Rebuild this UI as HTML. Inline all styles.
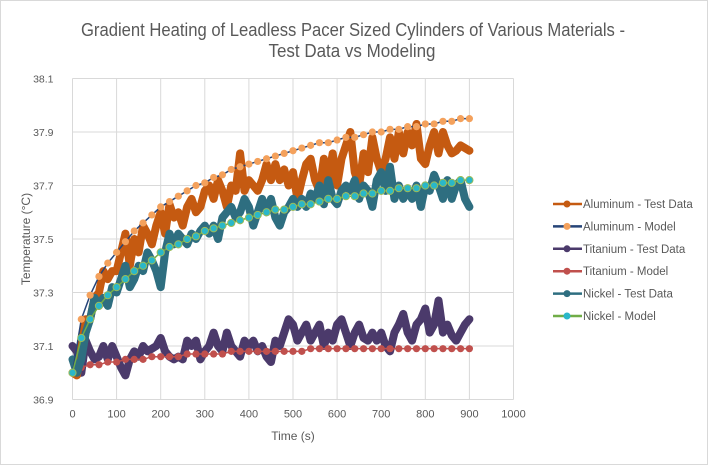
<!DOCTYPE html>
<html><head><meta charset="utf-8"><style>
body{margin:0;background:#fff;}
svg{display:block;font-family:"Liberation Sans",sans-serif;}
</style></head><body>
<svg id="chart" width="709" height="466">
<rect x="0.5" y="0.5" width="707" height="464" fill="#fff" stroke="#d9d9d9"/>
<text x="353" y="36" font-size="18" fill="#595959" text-anchor="middle" textLength="544" lengthAdjust="spacingAndGlyphs">Gradient Heating of Leadless Pacer Sized Cylinders of Various Materials -</text>
<text x="352" y="57" font-size="18" fill="#595959" text-anchor="middle" textLength="167" lengthAdjust="spacingAndGlyphs">Test Data vs Modeling</text>
<g id="grid"></g><g id="series"></g><g id="legend"></g>
<text x="293" y="440" font-size="12" fill="#595959" text-anchor="middle">Time (s)</text>
<text transform="translate(30,239) rotate(-90)" font-size="12" fill="#595959" text-anchor="middle">Temperature (°C)</text>
</svg>
<script>
const xTicks=[0,100,200,300,400,500,600,700,800,900,1000];
const yTicks=[36.9,37.1,37.3,37.5,37.7,37.9,38.1];
const alModel=[37.00,37.20,37.29,37.36,37.41,37.45,37.49,37.53,37.56,37.59,37.62,37.64,37.66,37.68,37.70,37.71,37.73,37.74,37.76,37.77,37.78,37.79,37.80,37.81,37.82,37.83,37.84,37.85,37.86,37.86,37.87,37.88,37.88,37.89,37.90,37.90,37.91,37.91,37.92,37.92,37.93,37.93,37.94,37.94,37.95,37.95];
const niModel=[37.00,37.13,37.20,37.25,37.29,37.32,37.35,37.38,37.40,37.42,37.45,37.47,37.48,37.50,37.51,37.53,37.54,37.55,37.56,37.57,37.58,37.59,37.60,37.61,37.61,37.62,37.63,37.63,37.64,37.65,37.65,37.66,37.66,37.67,37.67,37.68,37.68,37.69,37.69,37.69,37.70,37.70,37.71,37.71,37.72,37.72];
const tiModel=[37.00,37.02,37.03,37.03,37.04,37.04,37.05,37.05,37.05,37.06,37.06,37.06,37.06,37.07,37.07,37.07,37.07,37.07,37.08,37.08,37.08,37.08,37.08,37.08,37.08,37.08,37.08,37.09,37.09,37.09,37.09,37.09,37.09,37.09,37.09,37.09,37.09,37.09,37.09,37.09,37.09,37.09,37.09,37.09,37.09,37.09];
const alTest=[37.0,36.99,37.1,37.2,37.2,37.28,37.3,37.38,37.35,37.38,37.38,37.45,37.52,37.4,37.5,37.45,37.55,37.52,37.48,37.55,37.6,37.52,37.63,37.58,37.6,37.55,37.62,37.65,37.6,37.62,37.68,37.7,37.65,37.72,37.68,37.62,37.7,37.68,37.82,37.68,37.72,37.7,37.68,37.72,37.78,37.72,37.78,37.72,37.76,37.7,37.75,37.65,37.72,37.78,37.8,37.72,37.68,37.8,37.72,37.82,37.7,37.8,37.85,37.9,37.75,37.7,37.82,37.75,37.88,37.8,37.75,37.8,37.88,37.8,37.9,37.82,37.9,37.85,37.93,37.8,37.78,37.85,37.9,37.82,37.9,37.85,37.82,37.83,37.85,37.84,37.83];
const niTest=[37.05,37.0,37.05,37.15,37.2,37.28,37.25,37.28,37.25,37.32,37.3,37.35,37.4,37.32,37.35,37.4,37.38,37.45,37.42,37.38,37.32,37.45,37.52,37.48,37.52,37.5,37.48,37.52,37.5,37.53,37.55,37.52,37.55,37.5,37.58,37.6,37.62,37.58,37.6,37.65,37.62,37.55,37.6,37.65,37.6,37.65,37.58,37.55,37.6,37.62,37.65,37.62,37.65,37.62,37.67,37.65,37.7,37.63,37.72,37.65,37.63,37.68,37.7,37.68,37.72,37.65,37.7,37.68,37.62,37.72,37.75,37.68,37.77,37.65,37.7,37.65,37.68,37.65,37.7,37.62,37.7,37.68,37.74,37.7,37.65,37.72,37.65,37.7,37.72,37.65,37.62];
const tiTest=[37.1,37.08,37.0,37.12,37.08,37.05,37.06,37.1,37.05,37.1,37.06,37.02,36.99,37.05,37.08,37.06,37.1,37.08,37.09,37.1,37.13,37.08,37.06,37.05,37.06,37.05,37.12,37.1,37.12,37.05,37.08,37.1,37.15,37.1,37.08,37.15,37.1,37.08,37.06,37.12,37.1,37.12,37.08,37.1,37.06,37.04,37.12,37.1,37.15,37.2,37.18,37.12,37.15,37.18,37.12,37.15,37.18,37.1,37.15,37.12,37.18,37.2,37.15,37.1,37.15,37.18,37.13,37.12,37.15,37.12,37.15,37.1,37.08,37.15,37.18,37.22,37.15,37.12,37.18,37.2,37.24,37.15,37.18,37.27,37.15,37.18,37.14,37.12,37.15,37.18,37.2];
const modelStep=20, testStep=10;
const NS="http://www.w3.org/2000/svg";
const X0=72.5,X1=513.5,Y0=399.5,Y1=78.5;
const xS=v=>X0+(v-0)/1000*(X1-X0);
const yS=v=>Y0-(v-36.9)/1.2*(Y0-Y1);
function mk(tag,attrs,parent){const e=document.createElementNS(NS,tag);for(const k in attrs)e.setAttribute(k,attrs[k]);parent.appendChild(e);return e;}
const grid=document.getElementById('grid');
xTicks.forEach(t=>{const l=mk('line',{x1:xS(t),x2:xS(t),y1:Y1,y2:Y0,stroke:'#d9d9d9'},grid);


const tx=mk('text',{x:xS(t),y:Y0+18,'font-size':11,fill:'#595959','text-anchor':'middle'},grid);tx.textContent=t;

});
yTicks.forEach(t=>{const l=mk('line',{x1:X0,x2:X1,y1:yS(t),y2:yS(t),stroke:'#d9d9d9'},grid);


const tx=mk('text',{x:X0-19,y:yS(t)+4,'font-size':10.5,fill:'#595959','text-anchor':'end'},grid);tx.textContent=t.toFixed(1);

});
const sg=document.getElementById('series');
function testLine(vals,color,name){const pts=vals.map((v,i)=>xS(i*testStep)+','+yS(v)).join(' ');
const p=mk('polyline',{points:pts,fill:'none',stroke:color,'stroke-width':8,'stroke-linejoin':'round','stroke-linecap':'round'},sg);

}
function modelLine(vals,lineC,dotC,name,dotStroke){const pts=vals.map((v,i)=>xS(i*modelStep)+','+yS(v)).join(' ');
const p=mk('polyline',{points:pts,fill:'none',stroke:lineC,'stroke-width':1.5},sg);


vals.forEach((v,i)=>{const c=mk('circle',{cx:xS(i*modelStep),cy:yS(v),r:3.6,fill:dotC,stroke:dotStroke||'none','stroke-width':1},sg);

});}
testLine(tiTest,'#4b3a6b','titanium-test-data');
modelLine(tiModel,'#c0504d','#c0504d','titanium-model');
testLine(alTest,'#c55a11','aluminum-test-data');
testLine(niTest,'#2e6e80','nickel-test-data');
modelLine(alModel,'#264478','#f4a15c','aluminum-model');
modelLine(niModel,'#70ad47','#2ab7c9','nickel-model','#9bbb59');
const lg=document.getElementById('legend');
const items=[['Aluminum - Test Data','#c55a11','#c55a11'],['Aluminum - Model','#264478','#f4a15c'],['Titanium - Test Data','#4b3a6b','#4b3a6b'],['Titanium - Model','#c0504d','#c0504d'],['Nickel - Test Data','#2e6e80','#2e6e80'],['Nickel - Model','#70ad47','#2ab7c9']];
items.forEach((it,i)=>{const y=204+i*22.4;
const g=mk('g',{},lg);


mk('line',{x1:553,x2:582,y1:y,y2:y,stroke:it[1],'stroke-width':2.5},g);
mk('circle',{cx:567,cy:y,r:3.5,fill:it[2]},g);
const t=mk('text',{x:583,y:y+4,'font-size':11.5,fill:'#595959'},g);t.textContent=it[0];});
</script>
</body></html>
